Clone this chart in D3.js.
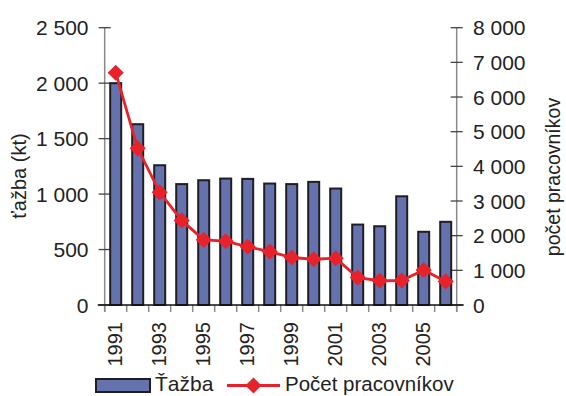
<!DOCTYPE html>
<html><head><meta charset="utf-8">
<script src="https://cdn.jsdelivr.net/npm/d3@7"></script>
<style>body{margin:0;background:#fff}svg{display:block;font-family:"Liberation Sans",Arial,sans-serif}</style>
</head><body>
<svg id="c" width="566" height="396"></svg>
<script>
const years = ["1991","1992","1993","1994","1995","1996","1997","1998","1999","2000","2001","2002","2003","2004","2005","2006"];
const tazba = [2000,1630,1260,1090,1125,1140,1137,1095,1090,1110,1050,725,710,980,660,750];
const pracovnici = [6700,4520,3250,2440,1880,1840,1680,1540,1370,1320,1350,790,700,705,1010,680];
const leftTicks = [0,500,1000,1500,2000,2500];
const rightTicks = [0,1000,2000,3000,4000,5000,6000,7000,8000];
const xLabels = ["1991","1993","1995","1997","1999","2001","2003","2005"];
const seriesNames = ["Ťažba","Počet pracovníkov"];
const axisTitles = ["ťažba (kt)","počet pracovníkov"];

const svg = d3.select("#c");
const L = 104.7, R = 456.7, T = 27.7, B = 305;
const fmt = v => v >= 1000 ? Math.floor(v/1000) + " " + String(v%1000).padStart(3,"0") : String(v);

const x = d3.scaleBand().domain(years).range([L,R]).paddingInner(0.5).paddingOuter(0.25);
const yL = d3.scaleLinear().domain([0,2500]).range([B,T]);
const yR = d3.scaleLinear().domain([0,8000]).range([B,T]);
const step = x.step();

// axis lines
svg.append("line").attr("x1",L).attr("x2",L).attr("y1",T).attr("y2",B+7).attr("stroke","#8a8a8a").attr("stroke-width",1.5);
svg.append("line").attr("x1",R).attr("x2",R).attr("y1",T).attr("y2",B+7).attr("stroke","#8a8a8a").attr("stroke-width",1.5);

// left ticks
const lt = svg.append("g");
leftTicks.forEach(v=>{
  lt.append("line").attr("x1",L-6).attr("x2",L+6).attr("y1",yL(v)).attr("y2",yL(v)).attr("stroke","#444").attr("stroke-width",1.3);
  lt.append("text").attr("x",88.5).attr("y",yL(v)).attr("dy","0.36em").attr("text-anchor","end").attr("font-size",21).attr("fill","#222").text(fmt(v));
});
const rt = svg.append("g");
rightTicks.forEach(v=>{
  rt.append("line").attr("x1",R-6).attr("x2",R+6).attr("y1",yR(v)).attr("y2",yR(v)).attr("stroke","#444").attr("stroke-width",1.3);
  rt.append("text").attr("x",473).attr("y",yR(v)).attr("dy","0.36em").attr("text-anchor","start").attr("font-size",21).attr("fill","#222").text(fmt(v));
});

// x ticks at category boundaries
d3.range(years.length+1).forEach(i=>{
  const xx = L + i*step;
  svg.append("line").attr("x1",xx).attr("x2",xx).attr("y1",B).attr("y2",B+7).attr("stroke","#8a8a8a").attr("stroke-width",1.5);
});

// bars
svg.append("g").selectAll("rect").data(years).join("rect")
  .attr("x",d=>x(d)).attr("width",x.bandwidth())
  .attr("y",(d,i)=>yL(tazba[i])).attr("height",(d,i)=>B-yL(tazba[i]))
  .attr("fill","#6572AE").attr("stroke","#1e1e24").attr("stroke-width",2);

// baseline
svg.append("line").attr("x1",L-7).attr("x2",R+7).attr("y1",B).attr("y2",B).attr("stroke","#111").attr("stroke-width",1.5);

// line
const cx = d => x(d)+x.bandwidth()/2;
svg.append("path").datum(years)
  .attr("d", d3.line().x(d=>cx(d)).y((d,i)=>yR(pracovnici[i])))
  .attr("fill","none").attr("stroke","#E8222B").attr("stroke-width",2.8);
const diamond = d3.symbol().type(d3.symbolSquare).size(130);
svg.append("g").selectAll("path").data(years).join("path")
  .attr("d",diamond())
  .attr("transform",(d,i)=>`translate(${cx(d)},${yR(pracovnici[i])}) rotate(45)`)
  .attr("fill","#E8222B");

// x labels
xLabels.forEach(y=>{
  svg.append("text").attr("transform",`translate(${cx(y)-1},322) rotate(-90)`)
    .attr("dy","0.36em").attr("text-anchor","end").attr("font-size",20).attr("fill","#222").text(y);
});

// axis titles
svg.append("text").attr("transform","translate(19,176) rotate(-90)").attr("dy","0.36em").attr("text-anchor","middle").attr("font-size",20).attr("fill","#222").text(axisTitles[0]);
svg.append("text").attr("transform","translate(553,177) rotate(-90)").attr("dy","0.36em").attr("text-anchor","middle").attr("font-size",19.5).attr("fill","#222").text(axisTitles[1]);

// legend
const lg = svg.append("g");
lg.append("rect").attr("x",96).attr("y",379).attr("width",54).attr("height",13).attr("fill","#6572AE").attr("stroke","#1e1e24").attr("stroke-width",2);
lg.append("text").attr("x",155).attr("y",391).attr("font-size",21).attr("fill","#222").text(seriesNames[0]);
lg.append("line").attr("x1",227).attr("x2",280).attr("y1",385.5).attr("y2",385.5).attr("stroke","#E8222B").attr("stroke-width",2.8);
lg.append("path").attr("d",diamond()).attr("transform","translate(253.5,385.5) rotate(45)").attr("fill","#E8222B");
lg.append("text").attr("x",285).attr("y",391).attr("font-size",20.5).attr("fill","#222").text(seriesNames[1]);
</script>
</body></html>
